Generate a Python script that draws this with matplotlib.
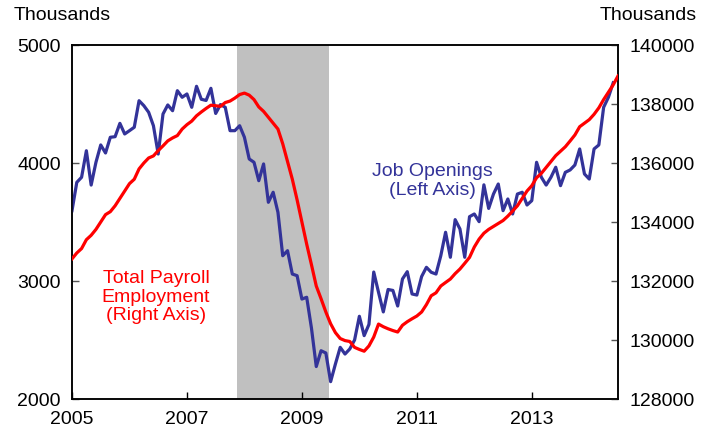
import matplotlib
matplotlib.use("Agg")

import matplotlib.pyplot as plt
import numpy as np

plt.rcParams["font.family"] = ["Liberation Sans", "DejaVu Sans"]

# Job openings, thousands (left axis), monthly Jan 2005 - Jun 2014
job_openings = [
    3596, 3836, 3879, 4104, 3813, 4006, 4153, 4085, 4218, 4223, 4336, 4246,  # 2005
    4274, 4303, 4528, 4486, 4430, 4316, 4076, 4415, 4492, 4443, 4613, 4557,  # 2006
    4585, 4472, 4650, 4540, 4530, 4633, 4420, 4495, 4472, 4274, 4274, 4316,  # 2007
    4218, 4034, 4006, 3850, 3992, 3667, 3752, 3582, 3214, 3257, 3059, 3045,  # 2008
    2847, 2862, 2600, 2275, 2409, 2390, 2147, 2297, 2438, 2381, 2424, 2500,  # 2009
    2701, 2537, 2632, 3076, 2904, 2738, 2928, 2920, 2788, 3017, 3079, 2890,  # 2010
    2881, 3038, 3116, 3074, 3059, 3214, 3413, 3201, 3520, 3441, 3201, 3545,  # 2011
    3568, 3503, 3815, 3615, 3737, 3822, 3596, 3695, 3568, 3737, 3752, 3644,  # 2012
    3681, 4006, 3879, 3813, 3879, 3964, 3808, 3921, 3941, 3983, 4119, 3907,  # 2013
    3864, 4119, 4153, 4472, 4557, 4680,                                      # 2014
]

# Total payroll employment, thousands (right axis), monthly Jan 2005 - Jul 2014
payroll = [
    132750, 132950, 133100, 133400, 133550, 133750, 134000, 134250, 134350, 134550, 134800, 135050,
    135300, 135450, 135800, 136000, 136170, 136240, 136420, 136580, 136750, 136850, 136930, 137150,
    137300, 137420, 137600, 137730, 137850, 137960, 137940, 137920, 138050, 138100, 138200, 138320,
    138370, 138300, 138150, 137900, 137750, 137550, 137350, 137150, 136650, 136050, 135450, 134750,
    134000, 133250, 132550, 131830, 131400, 130950, 130550, 130250, 130050, 129980, 129950, 129750,
    129680, 129620, 129800, 130100, 130540, 130450, 130380, 130320, 130270, 130500, 130620, 130720,
    130813, 130950, 131200, 131500, 131600, 131830, 131950, 132067, 132250, 132406, 132600, 132800,
    133152, 133420, 133620, 133750, 133850, 133950, 134050, 134200, 134373, 134550, 134800, 135050,
    135230, 135500, 135650, 135850, 136050, 136250, 136400, 136550, 136746, 136950, 137230, 137350,
    137470, 137650, 137870, 138150, 138400, 138650, 138950,
]

start_year = 2005
recession = (2007.87, 2009.47)
year_ticks = [2005, 2007, 2009, 2011, 2013]
left_ticks = [2000, 3000, 4000, 5000]
right_ticks = [128000, 130000, 132000, 134000, 136000, 138000, 140000]

BLUE = "#333399"
RED = "#FF0000"

t_jobs = start_year + np.arange(len(job_openings)) / 12
t_pay = start_year + np.arange(len(payroll)) / 12

fig = plt.figure(figsize=(7.02, 4.35), dpi=100)
ax = fig.add_axes([72 / 702, 35 / 435, 546 / 702, 354 / 435])
ax2 = ax.twinx()

ax.axvspan(*recession, color="#C0C0C0", lw=0, zorder=0)
ax.plot(t_jobs, job_openings, color=BLUE, lw=2.3, zorder=3)
ax2.plot(t_pay, payroll, color=RED, lw=2.3, zorder=3)

ax.set_xlim(2005, 2014.5)
ax.set_ylim(2000, 5000)
ax2.set_ylim(128000, 140000)

ax.set_xticks(year_ticks)
ax.set_yticks(left_ticks)
ax2.set_yticks(right_ticks)

ax.tick_params(axis="x", direction="in", length=5, width=1, pad=8, labelsize=14)
ax.tick_params(axis="y", direction="in", length=5, width=1, color="#555555",
               pad=8, labelsize=14)
ax2.tick_params(axis="y", direction="in", length=5, width=1, color="#555555",
                pad=8, labelsize=14)

for a in (ax, ax2):
    for s in a.spines.values():
        s.set_linewidth(1.1)
        s.set_color("black")

fig.text(62 / 702, 1 - 15 / 435, "Thousands", fontsize=14, ha="center", va="center")
fig.text(648 / 702, 1 - 15 / 435, "Thousands", fontsize=14, ha="center", va="center")

fig.text(156 / 702, 1 - 297 / 435, "Total Payroll\nEmployment\n(Right Axis)",
         color=RED, fontsize=14, ha="center", va="center", linespacing=1.1)
fig.text(432 / 702, 1 - 181 / 435, "Job Openings\n(Left Axis)",
         color=BLUE, fontsize=14, ha="center", va="center", linespacing=1.1)

fig.savefig("out.png", dpi=100)
plt.close(fig)
